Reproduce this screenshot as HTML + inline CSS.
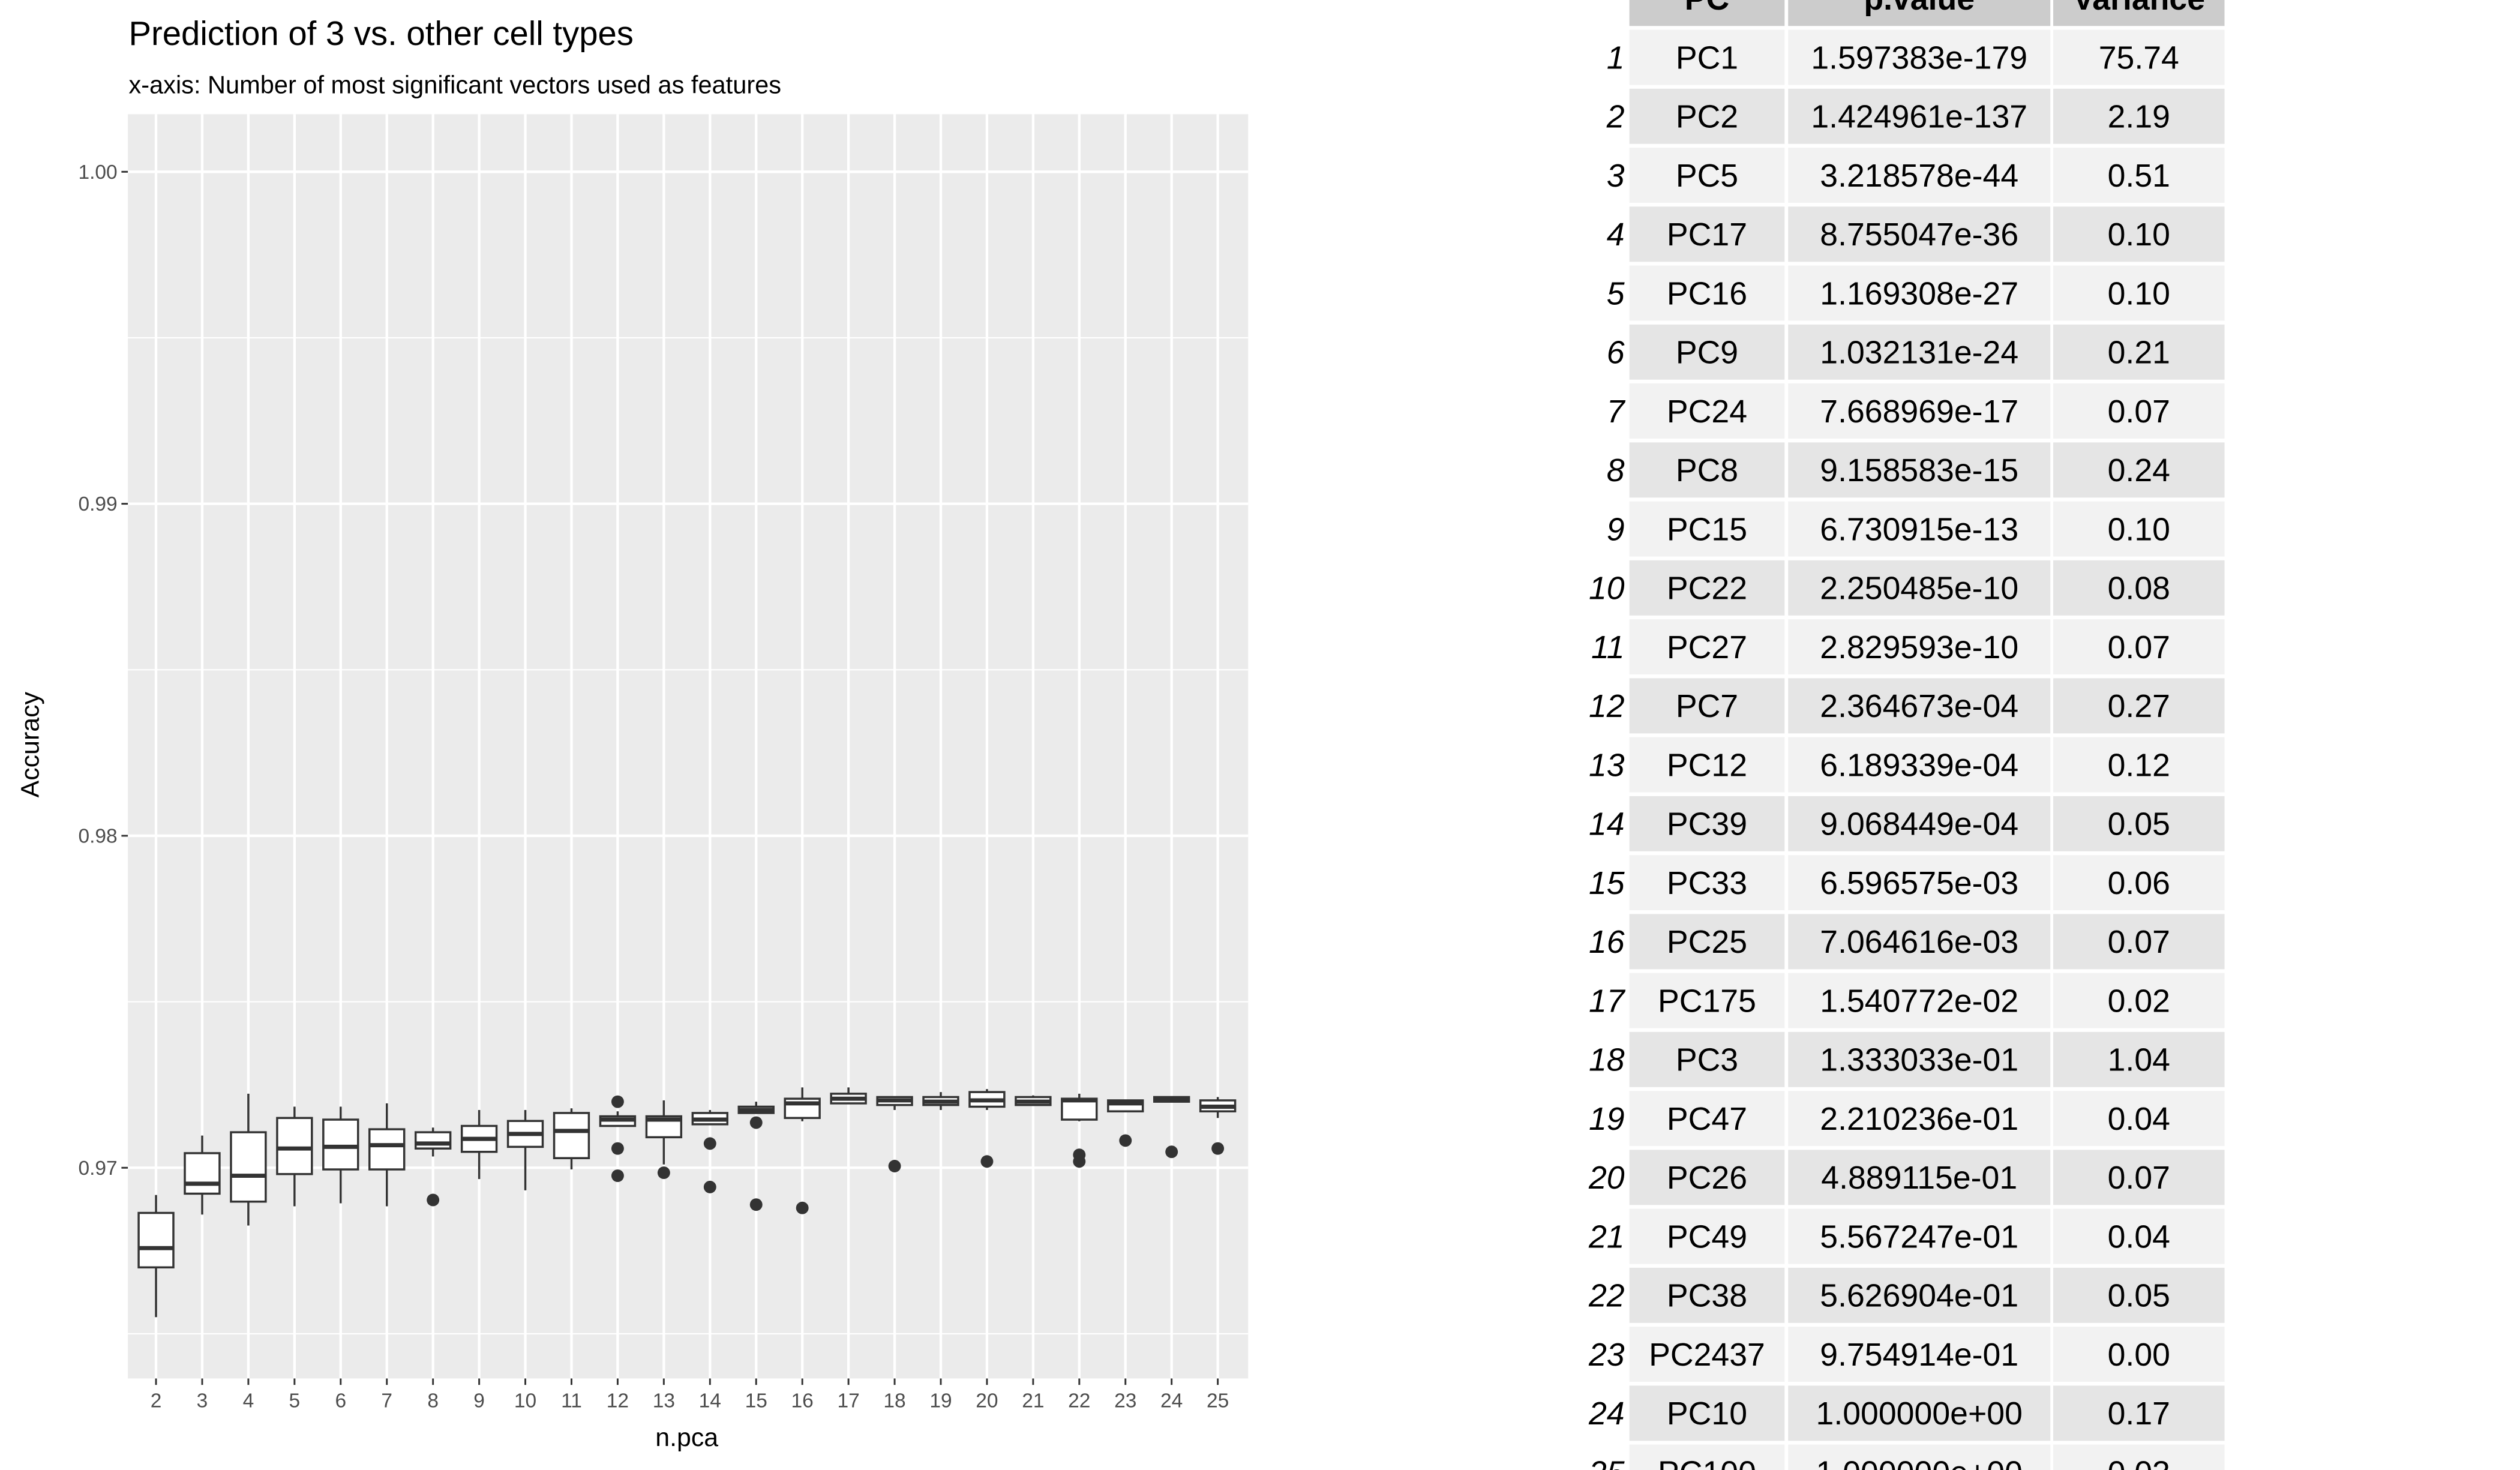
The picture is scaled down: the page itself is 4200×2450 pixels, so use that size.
<!DOCTYPE html>
<html><head><meta charset="utf-8"><style>
html,body{margin:0;padding:0;background:#fff;}
svg{display:block;font-family:"Liberation Sans",sans-serif;}
</style></head><body>
<svg id="chart" width="4200" height="2450" viewBox="0 0 1566.7 913.9" preserveAspectRatio="none" xmlns="http://www.w3.org/2000/svg">
<text x="80" y="28" font-size="21" fill="#000">Prediction of 3 vs. other cell types</text>
<text x="80" y="58" font-size="15.5" fill="#000">x-axis: Number of most significant vectors used as features</text>
<rect x="79.5" y="71" width="696.5" height="786" fill="#ebebeb"/>
<g id="grid"></g><g id="boxes"></g><g id="axes"></g>
<text transform="translate(24,463) rotate(-90)" text-anchor="middle" font-size="16" fill="#000">Accuracy</text>
<text x="427" y="899" text-anchor="middle" font-size="16" fill="#000">n.pca</text>
<g id="table"></g>
</svg>
<script>
const categories=[2,3,4,5,6,7,8,9,10,11,12,13,14,15,16,17,18,19,20,21,22,23,24,25];
const whiskerLow=[.9655,.96859,.96826,.96884,.96893,.96884,.97034,.96966,.96932,.96995,.97126,.9701,.97131,.97165,.9714,.97194,.97174,.97174,.97174,.97189,.9714,.9717,.97199,.9715];
const q1=[.9670,.96922,.96898,.96981,.96995,.96995,.97058,.97048,.97063,.97029,.97126,.97092,.97131,.97165,.9715,.97194,.97189,.97189,.97184,.97189,.97145,.9717,.97199,.9717];
const median=[.96758,.96952,.96976,.97058,.97063,.97068,.97073,.97087,.97102,.97111,.97145,.97145,.97145,.97174,.97194,.97208,.97203,.97199,.97203,.97199,.97203,.97194,.97208,.97184];
const q3=[.96864,.97044,.97107,.9715,.97145,.97116,.97107,.97126,.97141,.97165,.97155,.97155,.97165,.97184,.97208,.97223,.97213,.97213,.97228,.97213,.97208,.97203,.97213,.97203];
const whiskerHigh=[.96918,.97097,.97223,.97184,.97184,.97194,.97121,.97174,.97174,.97179,.9717,.97203,.97174,.97199,.97242,.97242,.97213,.97228,.97237,.97218,.97223,.97203,.97213,.97213];
const outliers=[[],[],[],[],[],[],[.96903],[],[],[],[.97199,.97058,.96976],[.96985],[.97073,.96942],[.97136,.96889],[.96879],[],[.97005],[],[.97019],[],[.97039,.97019],[.97082],[.97048],[.97058]];
const yTicks=[0.97,0.98,0.99,1.00];
const yTickLabels=["0.97","0.98","0.99","1.00"];
const yMinor=[0.965,0.975,0.985,0.995];
const rowNums=["1","2","3","4","5","6","7","8","9","10","11","12","13","14","15","16","17","18","19","20","21","22","23","24","25"];
const pcNames=["PC1","PC2","PC5","PC17","PC16","PC9","PC24","PC8","PC15","PC22","PC27","PC7","PC12","PC39","PC33","PC25","PC175","PC3","PC47","PC26","PC49","PC38","PC2437","PC10","PC100"];
const pValues=["1.597383e-179","1.424961e-137","3.218578e-44","8.755047e-36","1.169308e-27","1.032131e-24","7.668969e-17","9.158583e-15","6.730915e-13","2.250485e-10","2.829593e-10","2.364673e-04","6.189339e-04","9.068449e-04","6.596575e-03","7.064616e-03","1.540772e-02","1.333033e-01","2.210236e-01","4.889115e-01","5.567247e-01","5.626904e-01","9.754914e-01","1.000000e+00","1.000000e+00"];
const variances=["75.74","2.19","0.51","0.10","0.10","0.21","0.07","0.24","0.10","0.08","0.07","0.27","0.12","0.05","0.06","0.07","0.02","1.04","0.04","0.07","0.04","0.05","0.00","0.17","0.03"];

const NS="http://www.w3.org/2000/svg";
function mk(tag,attrs,parent){const e=document.createElementNS(NS,tag);for(const k in attrs)e.setAttribute(k,attrs[k]);parent.appendChild(e);return e;}
const xS=i=>97+i*28.7;
const yS=v=>726-(v-0.97)*20640;
const grid=document.getElementById('grid'),boxes=document.getElementById('boxes'),axes=document.getElementById('axes');
yMinor.forEach(v=>{const l=mk('line',{x1:79.5,x2:776,y1:yS(v),y2:yS(v),stroke:'#fff','stroke-width':0.8},grid);

});
yTicks.forEach((v,i)=>{const l=mk('line',{x1:79.5,x2:776,y1:yS(v),y2:yS(v),stroke:'#fff','stroke-width':1.6},grid);


const t=mk('line',{x1:75.5,x2:79.5,y1:yS(v),y2:yS(v),stroke:'#333','stroke-width':1.1},axes);


const tx=mk('text',{x:73,y:yS(v)+4.3,'text-anchor':'end','font-size':12.5,fill:'#4d4d4d'},axes);tx.textContent=yTickLabels[i];

});
categories.forEach((c,i)=>{const x=xS(i);
const g=mk('line',{x1:x,x2:x,y1:71,y2:857,stroke:'#fff','stroke-width':1.6},grid);


const t=mk('line',{x1:x,x2:x,y1:857,y2:861,stroke:'#333','stroke-width':1.1},axes);


const tx=mk('text',{x:x,y:875,'text-anchor':'middle','font-size':12.5,fill:'#4d4d4d'},axes);tx.textContent=c;


const bg=mk('g',{},boxes);


const w=10.8;
mk('line',{x1:x,x2:x,y1:yS(whiskerLow[i]),y2:yS(q1[i]),stroke:'#333','stroke-width':1.3},bg);
mk('line',{x1:x,x2:x,y1:yS(q3[i]),y2:yS(whiskerHigh[i]),stroke:'#333','stroke-width':1.3},bg);
mk('rect',{x:x-w,y:yS(q3[i]),width:2*w,height:Math.max(0.1,yS(q1[i])-yS(q3[i])),fill:'#fff',stroke:'#333','stroke-width':1.3},bg);
mk('line',{x1:x-w,x2:x+w,y1:yS(median[i]),y2:yS(median[i]),stroke:'#333','stroke-width':2.6},bg);
outliers[i].forEach(o=>{const p=mk('circle',{cx:x,cy:yS(o),r:3.9,fill:'#333'},bg);

});
});
const tb=document.getElementById('table');
const cols=[[1013,1109.5],[1111.7,1274.7],[1276.5,1383]];
const rowH=36.65,top0=18.5,cellH=34.3;
const headers=["PC","p.value","Variance"];
headers.forEach((h,j)=>{const r=mk('rect',{x:cols[j][0],y:top0-rowH,width:cols[j][1]-cols[j][0],height:cellH,fill:'#cccccc'},tb);


const t=mk('text',{x:(cols[j][0]+cols[j][1])/2,y:top0-rowH+cellH/2+7,'text-anchor':'middle','font-size':20,'font-weight':'bold',fill:'#000'},tb);t.textContent=h;

});
pcNames.forEach((pc,i)=>{const y=top0+i*rowH;const fill=i%2===0?'#f2f2f2':'#e5e5e5';
const vals=[pc,pValues[i],variances[i]];
const rn=mk('text',{x:1010,y:y+cellH/2+7,'text-anchor':'end','font-size':20,'font-style':'italic',fill:'#000'},tb);rn.textContent=rowNums[i];


vals.forEach((v,j)=>{const r=mk('rect',{x:cols[j][0],y:y,width:cols[j][1]-cols[j][0],height:cellH,fill:fill},tb);


const t=mk('text',{x:(cols[j][0]+cols[j][1])/2,y:y+cellH/2+7,'text-anchor':'middle','font-size':20,fill:'#000'},tb);t.textContent=v;

});});
</script>
</body></html>
